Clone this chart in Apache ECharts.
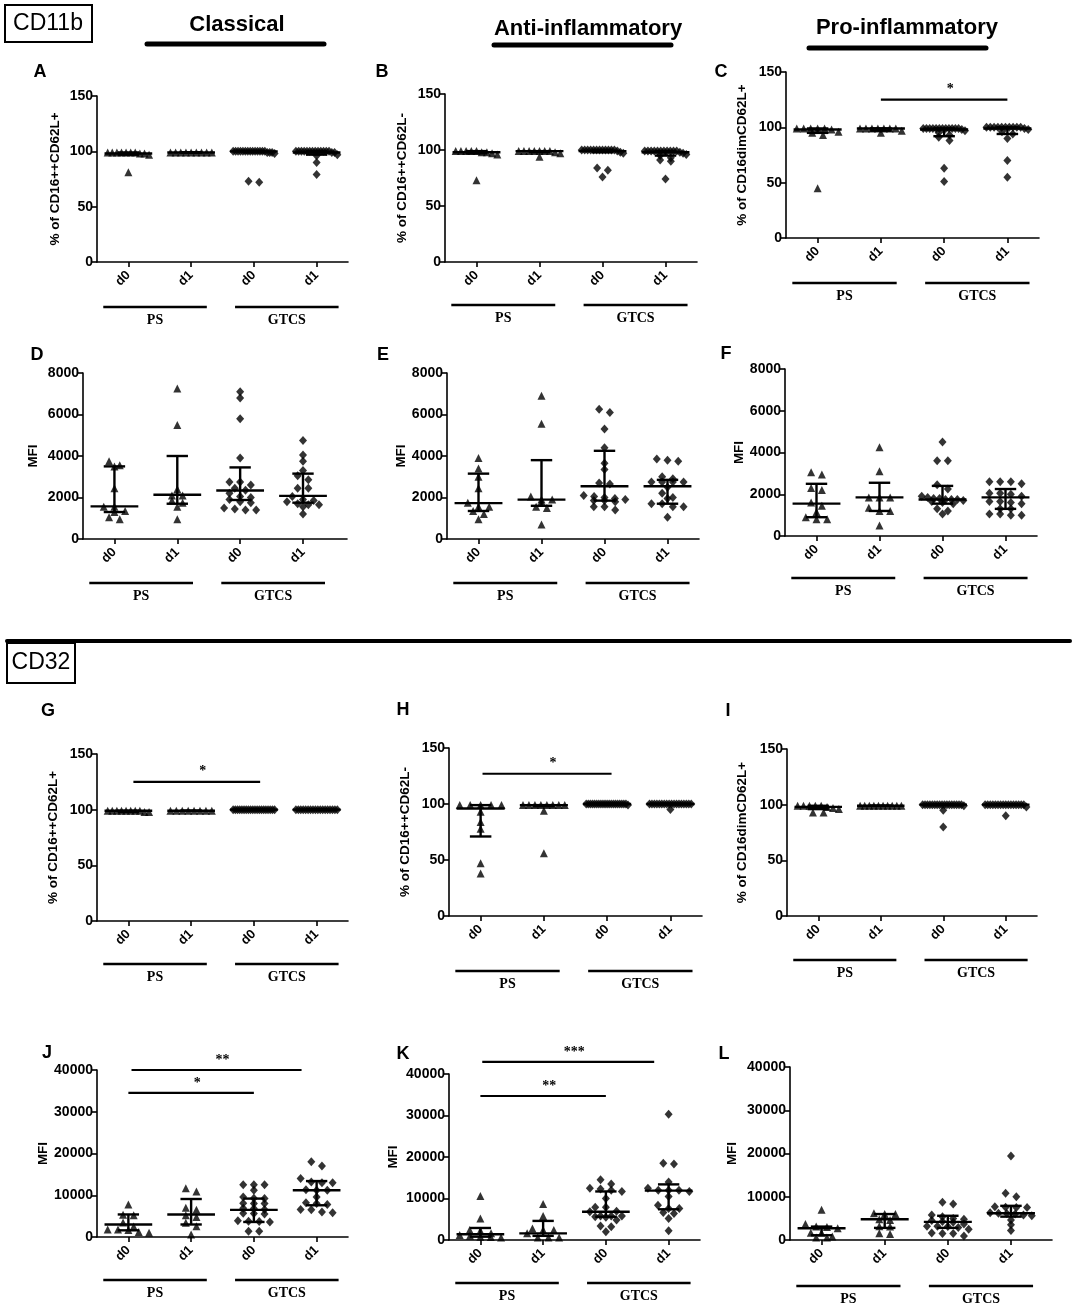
<!DOCTYPE html>
<html>
<head>
<meta charset="utf-8">
<script src="https://cdn.jsdelivr.net/npm/echarts@6/dist/echarts.min.js"></script>
<style>
html, body { margin: 0; padding: 0; background: #fff; }
#chart { width: 1074px; height: 1308px; }
</style>
</head>
<body>
<div id="chart"></div>
<script>
// tick labels under each panel and the two patient groups
const tickLabels = ['d0', 'd1', 'd0', 'd1'];
const groupNames = ['PS', 'GTCS'];

// every panel: [PS d0, PS d1, GTCS d0, GTCS d1]
const valsA = [
	[99, 99, 99, 99, 99, 98, 97, 98, 99, 99, 81],
	[99, 99, 99, 99, 99, 99, 99, 99, 99],
	[100, 100, 100, 100, 100, 100, 100, 100, 100, 100, 100, 100, 100, 100, 99, 99, 99, 98, 73, 72],
	[100, 100, 100, 100, 100, 100, 100, 100, 100, 100, 100, 100, 100, 99, 99, 97, 96, 90, 79]
];
const valsB = [
	[99, 99, 99, 99, 99, 98, 97, 96, 98, 73],
	[99, 99, 99, 99, 99, 99, 99, 98, 94, 97],
	[100, 100, 100, 100, 100, 100, 100, 100, 100, 100, 100, 100, 99, 98, 97, 84, 82, 76],
	[99, 99, 99, 99, 99, 99, 99, 99, 99, 99, 99, 98, 97, 96, 95, 93, 91, 90, 74]
];
const valsC = [
	[99, 99, 99, 99, 99, 98, 96, 95, 93, 45],
	[99, 99, 99, 99, 99, 99, 99, 97, 95],
	[99, 99, 99, 99, 99, 99, 99, 99, 99, 99, 99, 99, 98, 97, 95, 93, 91, 88, 63, 51],
	[100, 100, 100, 100, 100, 100, 100, 100, 100, 100, 99, 98, 96, 94, 90, 70, 55]
];
const valsD = [
	[3750, 3550, 3500, 2450, 1550, 1550, 1350, 1300, 1050, 950],
	[7250, 5500, 2400, 2100, 2100, 1850, 1750, 1550, 950],
	[7100, 6800, 5800, 3900, 2750, 2750, 2600, 2450, 2350, 2200, 2050, 2000, 1900, 1800, 1750, 1500, 1450, 1400, 1400],
	[4750, 4050, 3750, 3300, 3050, 2850, 2450, 2450, 2050, 1900, 1850, 1800, 1700, 1650, 1650, 1550, 1200]
];
const valsE = [
	[3900, 3400, 3000, 2450, 1750, 1550, 1550, 1350, 1200, 950],
	[6900, 5550, 2050, 1900, 1900, 1800, 1550, 1500, 700],
	[6250, 6100, 5300, 4400, 3650, 3350, 2700, 2650, 2100, 2050, 2000, 1950, 1900, 1850, 1850, 1800, 1550, 1550, 1400],
	[3850, 3800, 3750, 3000, 2900, 2750, 2750, 2750, 2750, 2500, 2200, 2000, 1950, 1700, 1700, 1550, 1550, 1050]
];
const valsF = [
	[3050, 2950, 2300, 2200, 1600, 1450, 1150, 900, 800, 800],
	[4250, 3100, 1850, 1850, 1850, 1350, 1200, 1200, 500],
	[4500, 3600, 3600, 2450, 2250, 1900, 1850, 1800, 1800, 1750, 1750, 1750, 1700, 1650, 1600, 1550, 1300, 1200, 1050],
	[2600, 2600, 2600, 2500, 2050, 2050, 2000, 1900, 1650, 1650, 1600, 1550, 1300, 1300, 1050, 1050, 1000, 1000]
];
const valsG = [
	[99, 99, 99, 99, 99, 98, 98, 99, 99, 99],
	[99, 99, 99, 99, 99, 99, 99, 99],
	[100, 100, 100, 100, 100, 100, 100, 100, 100, 100, 100, 100, 100, 100, 100, 100, 100, 100, 100, 100],
	[100, 100, 100, 100, 100, 100, 100, 100, 100, 100, 100, 100, 100, 100, 100, 100, 100, 100]
];
const valsH = [
	[99, 99, 99, 99, 99, 93, 84, 78, 47, 38],
	[99, 99, 99, 99, 99, 99, 99, 99, 94, 56],
	[100, 100, 100, 100, 100, 100, 100, 100, 100, 100, 100, 100, 100, 100, 100, 100, 100, 100, 100, 100, 99],
	[100, 100, 100, 100, 100, 100, 100, 100, 100, 100, 100, 100, 100, 100, 100, 100, 100, 100, 95]
];
const valsI = [
	[99, 99, 99, 99, 99, 98, 97, 96, 93, 93],
	[99, 99, 99, 99, 99, 99, 99, 99, 99, 99],
	[100, 100, 100, 100, 100, 100, 100, 100, 100, 100, 100, 100, 100, 100, 100, 100, 100, 99, 95, 80],
	[100, 100, 100, 100, 100, 100, 100, 100, 100, 100, 100, 100, 100, 100, 100, 100, 98, 90]
];
const valsJ = [
	[7800, 5300, 5200, 3500, 2500, 1800, 1800, 1700, 1200, 1000],
	[11700, 10900, 7000, 6500, 5200, 4800, 3400, 2600, 600],
	[12500, 12500, 12500, 11200, 9600, 9300, 9200, 8100, 8000, 8000, 6900, 6800, 6600, 5700, 5600, 5500, 3900, 3800, 3700, 3600, 1400, 1400],
	[18000, 17000, 14000, 13200, 13000, 13000, 11300, 11200, 11200, 9600, 8200, 8000, 7800, 6600, 6500, 6000, 5800]
];
const valsK = [
	[10600, 5200, 2400, 2200, 1600, 1200, 1000, 800, 700, 600],
	[8700, 5800, 2800, 2400, 2400, 1600, 600, 600, 600],
	[14500, 13500, 12500, 12300, 12000, 11700, 10000, 7900, 7900, 6900, 6800, 5800, 5800, 5800, 5600, 5500, 4800, 3400, 3200, 2000],
	[30300, 18500, 18300, 14000, 12500, 12000, 12000, 12000, 11700, 10500, 8400, 7600, 7600, 6600, 6400, 5200, 2200]
];
const valsL = [
	[7000, 3700, 3100, 3000, 2700, 1700, 1700, 800, 600, 600],
	[6200, 6000, 6000, 4800, 4600, 3200, 3100, 1550, 1400],
	[8700, 8300, 5800, 5400, 5000, 4800, 4500, 4300, 4100, 3700, 3200, 3200, 3100, 2900, 2500, 1600, 1500, 1500, 900],
	[19400, 10800, 10000, 7700, 7600, 7500, 7500, 6300, 6200, 6100, 6000, 5800, 5600, 4600, 3500, 2200]
];

// median, lower quartile, upper quartile of each column
const statsA = [[98, 97, 99], [99, 99, 99], [100, 99, 100], [99, 97, 100]];
const statsB = [[98, 97, 99], [99, 98, 99], [99, 98, 100], [98, 95, 99]];
const statsC = [[98, 95, 99], [99, 97, 99], [98, 92, 99], [99, 94, 100]];
const statsD = [[1570, 1300, 3500], [2130, 1700, 4000], [2340, 1880, 3450], [2080, 1750, 3150]];
const statsE = [[1730, 1350, 3150], [1900, 1600, 3800], [2540, 1850, 4250], [2540, 1700, 2850]];
const statsF = [[1550, 900, 2500], [1850, 1200, 2550], [1750, 1550, 2400], [1850, 1300, 2250]];
const statsG = [[99, 98, 99], [99, 99, 99], [100, 100, 100], [100, 100, 100]];
const statsH = [[96, 71, 99], [99, 98, 99], [100, 100, 100], [100, 100, 100]];
const statsI = [[98, 96, 99], [99, 99, 99], [100, 100, 100], [100, 100, 100]];
const statsJ = [[3000, 1600, 5400], [5400, 3000, 9100], [6500, 3600, 9200], [11200, 7600, 13400]];
const statsK = [[1400, 800, 2900], [1600, 1000, 4600], [6800, 5600, 11700], [11900, 7400, 13400]];
const statsL = [[2700, 1100, 3100], [4800, 2800, 6000], [4200, 2800, 5600], [6200, 5400, 7900]];

// significance bars: [from column, to column, level, stars]
const sigC = [[1, 3, 125, '*']];
const sigG = [[0.08, 2.1, 125, '*']];
const sigH = [[0.03, 2.07, 127, '*']];
const sigJ = [[0, 2, 34500, '*'], [0.05, 2.76, 40000, '**']];
const sigK = [[0, 2, 34700, '**'], [0.03, 2.77, 42900, '***']];

// group bars under the axis: [from, to]
const groupSpans = [[-0.4, 1.25], [1.7, 3.35]];

const SANS = '"Liberation Sans", Arial, sans-serif';
const SERIF = '"Liberation Serif", "Times New Roman", serif';

const panels = [
	{ id: 'A', vals: valsA, stats: statsA, sig: [], max: 150, step: 50, name: '% of CD16++CD62L+', box: [97, 96, 251, 166], xMax: 3.5, nameGap: 35, gGap: 45, letter: [40, 72] },
	{ id: 'B', vals: valsB, stats: statsB, sig: [], max: 150, step: 50, name: '% of CD16++CD62L-', box: [445, 94, 252, 168], xMax: 3.5, nameGap: 36, gGap: 43, letter: [382, 72] },
	{ id: 'C', vals: valsC, stats: statsC, sig: sigC, max: 150, step: 50, name: '% of CD16dimCD62L+', box: [786, 72, 253, 166], xMax: 3.5, nameGap: 37, gGap: 45, letter: [721, 72] },
	{ id: 'D', vals: valsD, stats: statsD, sig: [], max: 8000, step: 2000, name: 'MFI', box: [83, 373, 264, 166], xMax: 3.7, nameGap: 43, gGap: 44, letter: [37, 355] },
	{ id: 'E', vals: valsE, stats: statsE, sig: [], max: 8000, step: 2000, name: 'MFI', box: [447, 373, 252, 166], xMax: 3.5, nameGap: 37, gGap: 44, letter: [383, 355] },
	{ id: 'F', vals: valsF, stats: statsF, sig: [], max: 8000, step: 2000, name: 'MFI', box: [785, 369, 252, 167], xMax: 3.5, nameGap: 39, gGap: 42, letter: [726, 354] },
	{ id: 'G', vals: valsG, stats: statsG, sig: sigG, max: 150, step: 50, name: '% of CD16++CD62L+', box: [97, 754, 251, 167], xMax: 3.5, nameGap: 37, gGap: 43, letter: [48, 711] },
	{ id: 'H', vals: valsH, stats: statsH, sig: sigH, max: 150, step: 50, name: '% of CD16++CD62L-', box: [449, 748, 253, 168], xMax: 3.5, nameGap: 37, gGap: 55, letter: [403, 710] },
	{ id: 'I', vals: valsI, stats: statsI, sig: [], max: 150, step: 50, name: '% of CD16dimCD62L+', box: [787, 749, 250, 167], xMax: 3.5, nameGap: 38, gGap: 44, letter: [728, 711] },
	{ id: 'J', vals: valsJ, stats: statsJ, sig: sigJ, max: 40000, step: 10000, name: 'MFI', box: [97, 1070, 251, 167], xMax: 3.5, nameGap: 47, gGap: 43, letter: [47, 1053] },
	{ id: 'K', vals: valsK, stats: statsK, sig: sigK, max: 40000, step: 10000, name: 'MFI', box: [449, 1074, 251, 166], xMax: 3.5, nameGap: 49, gGap: 43, letter: [403, 1054] },
	{ id: 'L', vals: valsL, stats: statsL, sig: [], max: 40000, step: 10000, name: 'MFI', box: [790, 1067, 262, 173], xMax: 3.65, nameGap: 51, gGap: 46, letter: [724, 1054] }
];

// column-scatter layout: points of about the same level sit side by side
function spread(values, center, binSize) {
	const sorted = values.slice().sort((a, b) => b - a),
		bins = [],
		out = [];

	sorted.forEach(v => {
		const last = bins[bins.length - 1];
		if (last && last[0] - v <= binSize) {
			last.push(v);
		} else {
			bins.push([v]);
		}
	});
	bins.forEach(bin => {
		const n = bin.length,
			step = n > 1 ? Math.min(0.17, 0.66 / (n - 1)) : 0;
		bin.forEach((v, i) => out.push([center + (i - (n - 1) / 2) * step, v]));
	});
	return out;
}

const lineStyle = { stroke: '#000', lineWidth: 2.4, fill: null };

function renderStats(params, api) {
	const x = api.value(0),
		pm = api.coord([x, api.value(1)]),
		pl = api.coord([x, api.value(2)]),
		ph = api.coord([x, api.value(3)]),
		w = api.size([1, 0])[0];

	return {
		type: 'group',
		children: [
			{ type: 'line', shape: { x1: pm[0] - 0.38 * w, y1: pm[1], x2: pm[0] + 0.38 * w, y2: pm[1] }, style: lineStyle },
			{ type: 'line', shape: { x1: pl[0], y1: pl[1], x2: ph[0], y2: ph[1] }, style: lineStyle },
			{ type: 'line', shape: { x1: pl[0] - 0.17 * w, y1: pl[1], x2: pl[0] + 0.17 * w, y2: pl[1] }, style: lineStyle },
			{ type: 'line', shape: { x1: ph[0] - 0.17 * w, y1: ph[1], x2: ph[0] + 0.17 * w, y2: ph[1] }, style: lineStyle }
		]
	};
}

function makeSigRender(sig) {
	return function (params, api) {
		const a = api.coord([api.value(0), api.value(2)]),
			b = api.coord([api.value(1), api.value(2)]);

		return {
			type: 'group',
			children: [
				{ type: 'line', shape: { x1: a[0], y1: a[1], x2: b[0], y2: b[1] }, style: { stroke: '#000', lineWidth: 2.2 } },
				{ type: 'text', style: { text: sig[params.dataIndex][3], x: (a[0] + b[0]) / 2 + 6, y: a[1] - 3, align: 'center', verticalAlign: 'bottom', font: 'bold 14px ' + SERIF, fill: '#000' } }
			]
		};
	};
}

function makeGroupRender(gap) {
	return function (params, api) {
		const cs = params.coordSys,
			y = cs.y + cs.height + gap,
			a = api.coord([api.value(0), 0])[0],
			b = api.coord([api.value(1), 0])[0];

		return {
			type: 'group',
			children: [
				{ type: 'line', shape: { x1: a, y1: y, x2: b, y2: y }, style: { stroke: '#000', lineWidth: 2.6 } },
				{ type: 'text', style: { text: groupNames[params.dataIndex], x: (a + b) / 2, y: y + 13, align: 'center', verticalAlign: 'middle', font: 'bold 14px ' + SERIF, fill: '#000' } }
			]
		};
	};
}

const grid = [], xAxis = [], yAxis = [], series = [];

panels.forEach((p, i) => {
	grid.push({ left: p.box[0], top: p.box[1], width: p.box[2], height: p.box[3], containLabel: false });
	xAxis.push({
		gridIndex: i,
		type: 'value',
		min: -0.5,
		max: p.xMax,
		axisLine: { show: true, onZero: false, lineStyle: { color: '#000', width: 1.6 } },
		axisTick: { show: true, customValues: [0, 1, 2, 3], length: 5, lineStyle: { color: '#000', width: 1.6 } },
		axisLabel: {
			customValues: [0, 1, 2, 3],
			formatter: v => tickLabels[Math.round(v)],
			rotate: 45,
			margin: 11,
			color: '#000',
			fontWeight: 'bold',
			fontSize: 13,
			fontFamily: SANS
		},
		splitLine: { show: false }
	});
	yAxis.push({
		gridIndex: i,
		type: 'value',
		min: 0,
		max: p.max,
		interval: p.step,
		name: p.name,
		nameLocation: 'middle',
		nameGap: p.nameGap,
		nameTextStyle: { color: '#000', fontWeight: 'bold', fontSize: 13.5, fontFamily: SANS },
		axisLine: { show: true, onZero: false, lineStyle: { color: '#000', width: 1.6 } },
		axisTick: { show: true, length: 6, lineStyle: { color: '#000', width: 1.6 } },
		axisLabel: { color: '#000', fontWeight: 'bold', fontSize: 14, fontFamily: SANS, margin: 4, formatter: v => String(v) },
		splitLine: { show: false }
	});

	p.vals.forEach((vals, g) => {
		series.push({
			type: 'scatter',
			xAxisIndex: i,
			yAxisIndex: i,
			symbol: g < 2 ? 'triangle' : 'diamond',
			symbolSize: g < 2 ? 8 : [8, 9],
			itemStyle: { color: '#000' },
			data: spread(vals, g, p.max / 40),
			silent: true
		});
	});

	series.push({
		type: 'custom',
		xAxisIndex: i,
		yAxisIndex: i,
		clip: false,
		renderItem: renderStats,
		data: p.stats.map((s, g) => [g, s[0], s[1], s[2]]),
		silent: true
	});

	series.push({
		type: 'custom',
		xAxisIndex: i,
		yAxisIndex: i,
		clip: false,
		renderItem: makeGroupRender(p.gGap),
		data: groupSpans.map(s => [s[0], s[1]]),
		silent: true
	});

	if (p.sig.length) {
		series.push({
			type: 'custom',
			xAxisIndex: i,
			yAxisIndex: i,
			clip: false,
			renderItem: makeSigRender(p.sig),
			data: p.sig.map(s => [s[0], s[1], s[2]]),
			silent: true
		});
	}
});

const headerFont = 'bold 22px ' + SANS;
const graphic = [
	{ type: 'rect', shape: { x: 5, y: 5, width: 87, height: 37 }, style: { fill: null, stroke: '#000', lineWidth: 2 } },
	{ type: 'text', style: { text: 'CD11b', x: 48, y: 24, align: 'center', verticalAlign: 'middle', font: '23px ' + SANS, fill: '#000' } },
	{ type: 'text', style: { text: 'Classical', x: 237, y: 25, align: 'center', verticalAlign: 'middle', font: headerFont, fill: '#000' } },
	{ type: 'line', shape: { x1: 147, y1: 44, x2: 324, y2: 44 }, style: { stroke: '#000', lineWidth: 5, lineCap: 'round' } },
	{ type: 'text', style: { text: 'Anti-inflammatory', x: 588, y: 29, align: 'center', verticalAlign: 'middle', font: headerFont, fill: '#000' } },
	{ type: 'line', shape: { x1: 494, y1: 45, x2: 671, y2: 45 }, style: { stroke: '#000', lineWidth: 5, lineCap: 'round' } },
	{ type: 'text', style: { text: 'Pro-inflammatory', x: 907, y: 28, align: 'center', verticalAlign: 'middle', font: headerFont, fill: '#000' } },
	{ type: 'line', shape: { x1: 809, y1: 48, x2: 986, y2: 48 }, style: { stroke: '#000', lineWidth: 5, lineCap: 'round' } },
	{ type: 'line', shape: { x1: 7, y1: 641, x2: 1070, y2: 641 }, style: { stroke: '#000', lineWidth: 4, lineCap: 'round' } },
	{ type: 'rect', shape: { x: 7, y: 643, width: 68, height: 40 }, style: { fill: null, stroke: '#000', lineWidth: 2 } },
	{ type: 'text', style: { text: 'CD32', x: 41, y: 663, align: 'center', verticalAlign: 'middle', font: '23px ' + SANS, fill: '#000' } }
];

panels.forEach(p => {
	graphic.push({
		type: 'text',
		style: { text: p.id, x: p.letter[0], y: p.letter[1], align: 'center', verticalAlign: 'middle', font: 'bold 18px ' + SANS, fill: '#000' }
	});
});

const chart = echarts.init(document.getElementById('chart'), null, { renderer: 'canvas' });
chart.setOption({
	animation: false,
	backgroundColor: '#fff',
	textStyle: { fontFamily: SANS },
	grid,
	xAxis,
	yAxis,
	series,
	graphic
});
</script>
</body>
</html>
